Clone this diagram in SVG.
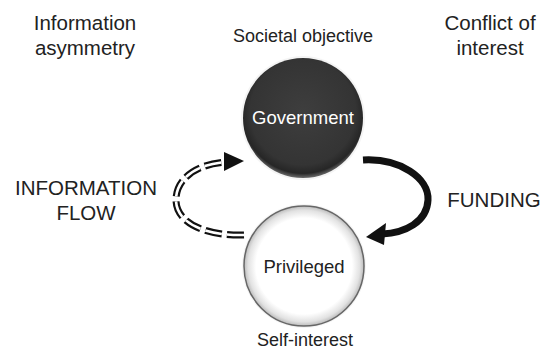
<svg xmlns="http://www.w3.org/2000/svg" width="543" height="349" viewBox="0 0 543 349">
<style>
text{font-family:"Liberation Sans",Arial,sans-serif;fill:#222;text-anchor:middle}
.lbl{font-size:20.5px}
.sub{font-size:18px}
.node{font-size:18.5px}
</style>
<defs>
<radialGradient id="gGov" cx="0.5" cy="0.45" r="0.55">
<stop offset="0" stop-color="#3e3e3e"/>
<stop offset="0.8" stop-color="#343434"/>
<stop offset="0.93" stop-color="#262626"/>
<stop offset="1" stop-color="#6a6a6a"/>
</radialGradient>
<radialGradient id="gPriv" cx="0.5" cy="0.5" r="0.5">
<stop offset="0" stop-color="#ffffff"/>
<stop offset="0.8" stop-color="#ffffff"/>
<stop offset="0.93" stop-color="#e2e2e2"/>
<stop offset="1" stop-color="#bcbcbc"/>
</radialGradient>
</defs>
<g id="labels">
<text class="lbl" x="85" y="30">Information</text>
<text class="lbl" x="85" y="55">asymmetry</text>
<text class="lbl" x="490" y="30">Conflict of</text>
<text class="lbl" x="490" y="55">interest</text>
<text class="lbl" x="86" y="195">INFORMATION</text>
<text class="lbl" x="86" y="220">FLOW</text>
<text class="lbl" x="494" y="207">FUNDING</text>
<text class="sub" x="303" y="42">Societal objective</text>
<text class="sub" x="305" y="346">Self-interest</text>
</g>
<g id="government">
<circle cx="303" cy="118" r="62" fill="#ececec" opacity="0.6"/>
<circle cx="303" cy="118" r="60" fill="url(#gGov)"/>
<text class="node" x="303" y="124" style="fill:#fff">Government</text>
</g>
<g id="privileged">
<circle cx="304" cy="266" r="62" fill="#eeeeee" opacity="0.6"/>
<circle cx="304" cy="266" r="60" fill="url(#gPriv)" stroke="#666" stroke-width="1.5"/>
<text class="node" x="304" y="273">Privileged</text>
</g>
<g id="connectors">
<path d="M 363 160 C 400 158, 429 178, 428 200 C 427 222, 405 233, 382 234" fill="none" stroke="#111" stroke-width="7"/>
<path d="M 366 237 L 386 223 L 384 245 Z" fill="#111"/>
<path d="M 244 235 C 203 236, 176 222, 176 200 C 176 179, 196 164, 226 162" fill="none" stroke="#111" stroke-width="7" stroke-dasharray="17 5"/>
<path d="M 244 235 C 203 236, 176 222, 176 200 C 176 179, 196 164, 226 162" fill="none" stroke="#fff" stroke-width="2.6" stroke-dasharray="17 5"/>
<path d="M 244 161 L 224 152 L 224 171 Z" fill="#111"/>
</g>
</svg>
